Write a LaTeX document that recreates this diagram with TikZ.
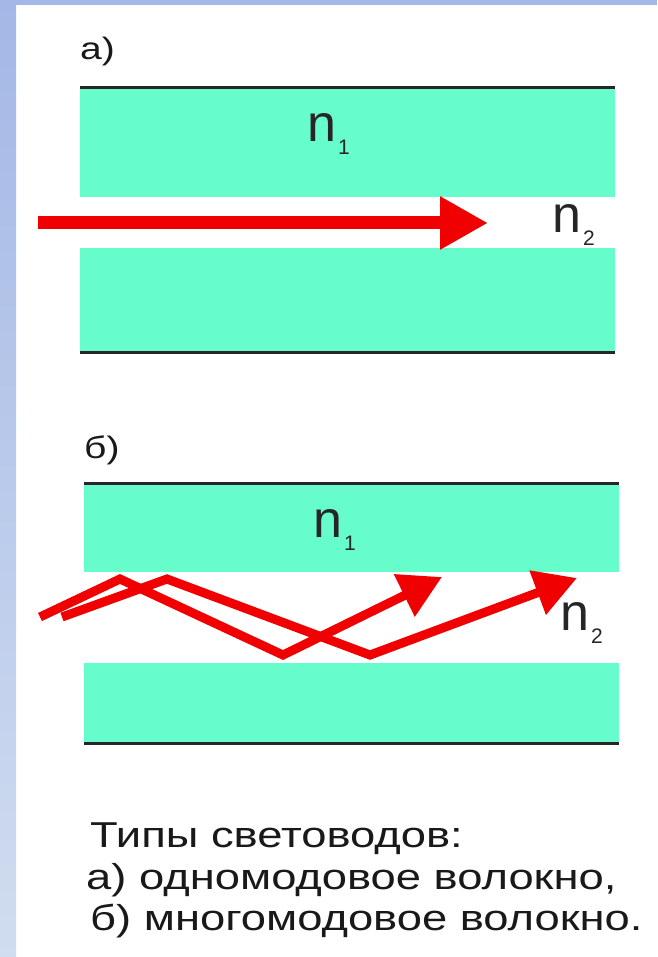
\documentclass[tikz,border=0pt]{standalone}
\usepackage{fontspec}
\setmainfont{Liberation Sans}
\newfontfamily\capfont[FakeStretch=1.26]{Liberation Sans}
\usetikzlibrary{arrows.meta}
\definecolor{clad}{RGB}{102,252,204}
\definecolor{rayred}{RGB}{240,0,0}
\definecolor{frametop}{RGB}{163,184,230}
\definecolor{framebot}{RGB}{208,220,240}
\newcommand{\nsym}[1]{n\kern2pt\raisebox{-13pt}{\fontsize{21}{21}\selectfont #1}}
\begin{document}
\begin{tikzpicture}[x=1pt,y=-1pt,
  band/.style={fill=clad, draw=none},
  edgeline/.style={line width=3pt, black!85},
  beam/.style={rayred, line width=13pt, -{Triangle[length=48pt,width=50pt]}},
  zig/.style={rayred, line width=9pt, line join=miter, -{Triangle[length=42pt,width=45pt]}},
  lab/.style={inner sep=0pt, text=black!90, font=\capfont\fontsize{31}{31}\selectfont},
  nlab/.style={inner sep=0pt, text=black!85, font=\fontsize{52}{52}\selectfont},
  captext/.style={inner sep=0pt, text=black!90, font=\capfont\fontsize{36}{36}\selectfont}]
\useasboundingbox (0,0) rectangle (657,957);
\fill[white] (0,0) rectangle (657,957);
\fill[frametop] (0,0) rectangle (657,5);
\shade[top color=frametop, bottom color=framebot] (0,0) rectangle (16,957);

% panel a
\node[lab, anchor=base west] (la) at (80,60) {а)};
\fill[band] (80,88) rectangle (615,197);
\fill[band] (80,248) rectangle (615,352);
\draw[edgeline] (80,88) -- (615,88);
\draw[edgeline] (80,352) -- (615,352);
\node[nlab, anchor=base west] (n1a) at (307,142) {\nsym{1}};
\node[nlab, anchor=base west] (n2a) at (552,233) {\nsym{2}};
\coordinate (as) at (38,223);
\coordinate (at) at (488,223);
\draw[beam] (as) -- (at);

% panel b
\node[lab, anchor=base west] (lb) at (84,458) {б)};
\fill[band] (84,483) rectangle (619,572);
\fill[band] (84,663) rectangle (619,743);
\draw[edgeline] (84,483) -- (619,483);
\draw[edgeline] (84,743) -- (619,743);
\node[nlab, anchor=base west] (n1b) at (313,537) {\nsym{1}};
\node[nlab, anchor=base west] (n2b) at (560,630) {\nsym{2}};
\coordinate (r1s) at (40,617);
\coordinate (r1p) at (120,579);
\coordinate (r1t) at (283,655);
\coordinate (r1e) at (442,577);
\coordinate (r2s) at (62,617);
\coordinate (r2p) at (167,579);
\coordinate (r2t) at (370,655);
\coordinate (r2e) at (577,578);
\draw[zig] (r1s) -- (r1p) -- (r1t) -- (r1e);
\draw[zig] (r2s) -- (r2p) -- (r2t) -- (r2e);

% caption
\node[captext, anchor=base west] (c1) at (90,847) {Типы световодов:};
\node[captext, anchor=base west] (c2) at (86,889) {а) одномодовое волокно,};
\node[captext, anchor=base west] (c3) at (90,930) {б) многомодовое волокно.};
\end{tikzpicture}
\end{document}
